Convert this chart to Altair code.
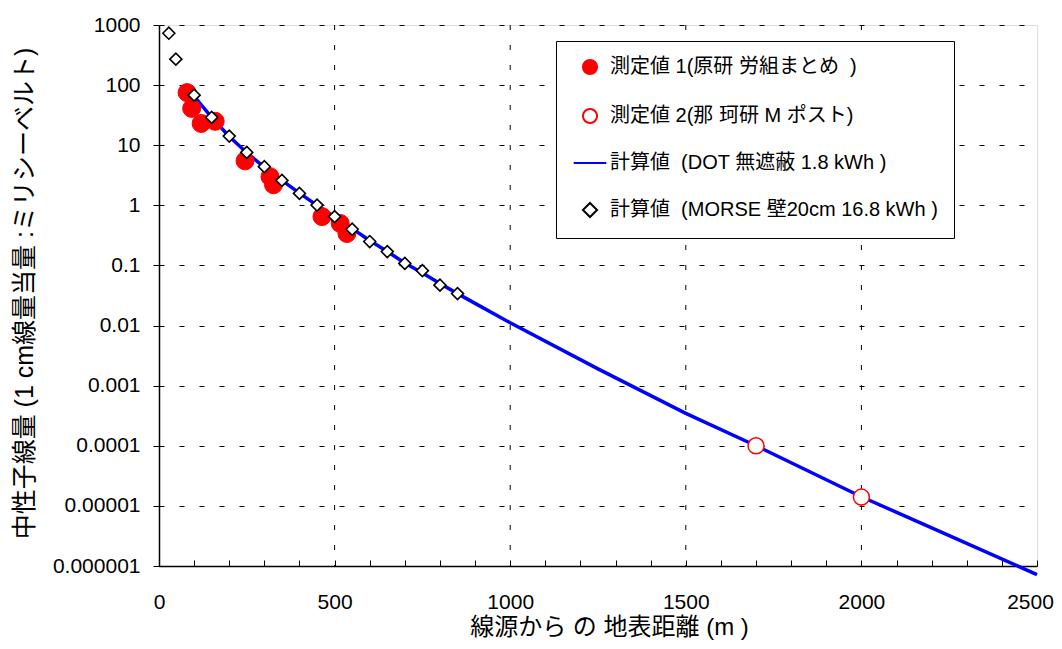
import altair as alt
import pandas as pd

# ---- data ----
series_names = [
    "測定値 1(原研 労組まとめ\u00a0\u00a0)",
    "測定値 2(那 珂研 M ポスト)",
    "計算値\u00a0\u00a0(DOT 無遮蔽 1.8 kWh )",
    "計算値\u00a0\u00a0(MORSE 壁20cm 16.8 kWh )",
]

m1_x = [80, 93, 120, 160, 245, 316, 326, 464, 516, 535]
m1_y = [75, 41, 23, 25, 5.5, 3.0, 2.2, 0.65, 0.50, 0.34]

m2_x = [1700, 2000]
m2_y = [1.0e-4, 1.4e-5]

dot_x = [100, 150, 200, 250, 300, 350, 400, 450, 500, 550, 600, 650, 700, 750,
         800, 850, 900, 1000, 1250, 1500, 1700, 2000, 2250, 2500]
dot_y = [65, 29, 14, 7.5, 4.3, 2.6, 1.6, 1.0, 0.64, 0.41, 0.26, 0.17, 0.11, 0.075,
         0.05, 0.034, 0.0234, 0.0111, 0.0019, 3.46e-4, 1.0e-4, 1.42e-5, 3.2e-6, 7.2e-7]

morse_x = [28, 48, 100, 150, 200, 250, 300, 350, 400, 450, 500, 550, 600, 650,
           700, 750, 800, 850]
morse_y = [730, 270, 68, 29, 14.2, 7.6, 4.4, 2.6, 1.58, 1.01, 0.65, 0.40, 0.25, 0.17,
           0.108, 0.082, 0.047, 0.034]

x_tick_values = [0, 100, 200, 300, 400, 500, 600, 700, 800, 900, 1000, 1100, 1200,
                 1300, 1400, 1500, 1600, 1700, 1800, 1900, 2000, 2100, 2200, 2300,
                 2400, 2500]
x_grid_values = [500, 1000, 1500, 2000]
y_tick_values = [1e-6, 1e-5, 1e-4, 1e-3, 1e-2, 1e-1, 1, 10, 100, 1000]

x_title = "線源から の 地表距離 (m )"
y_title = "中性子線量 (1 cm線量当量 :ミリシーベルト)"

FONT = "Liberation Sans, Arial, Noto Sans CJK JP"

# ---- tables ----
df_m1 = pd.DataFrame({"x": m1_x, "y": m1_y, "series": series_names[0]})
df_m2 = pd.DataFrame({"x": m2_x, "y": m2_y, "series": series_names[1]})
df_dot = pd.DataFrame({"x": dot_x, "y": dot_y, "series": series_names[2]})
df_morse = pd.DataFrame({"x": morse_x, "y": morse_y, "series": series_names[3]})
df_grid = pd.DataFrame({"x": x_grid_values})

x_scale = alt.Scale(domain=[0, 2500], nice=False)
y_scale = alt.Scale(type="log", domain=[1e-6, 1000], nice=False)

x_axis = alt.Axis(
    values=x_tick_values,
    labelExpr="datum.value % 500 == 0 ? format(datum.value, 'd') : ''",
    labelOverlap=False, labelFlush=False,
    labelOffset={"condition": {"test": "datum.value == 2500", "value": -7}, "value": 0},
    grid=False, tickSize={"expr": "-6"}, tickColor="black",
    domainColor="black", domainWidth=1.5,
    labelPadding=31, labelFontSize=21, labelFont=FONT, labelColor="black",
    title=x_title, titleFont=FONT, titleFontSize=24, titleFontWeight="normal",
    titleColor="black", titleX=450, titleY=61, titleBaseline="middle",
    titleAlign="center",
)
y_axis = alt.Axis(
    values=y_tick_values,
    labelExpr="format(datum.value, '.6~f')",
    labelOverlap=False, labelFlush=False,
    grid=True, gridDash=[5, 15], gridColor="black", gridWidth=1,
    tickSize=6, tickColor="black", domainColor="black", domainWidth=1.5,
    labelPadding=13, labelFontSize=21, labelFont=FONT, labelColor="black",
    title=y_title, titleFont=FONT, titleFontSize=25, titleFontWeight="normal",
    titleColor="black", titleX=-135, titleY=268, titleAngle=270,
    titleAlign="center", titleBaseline="middle",
)

legend = alt.Legend(
    title=None, orient="none", legendX=397, legendY=16, direction="vertical",
    padding=16, symbolOffset=8, labelOffset=10, rowPadding=25,
    symbolSize=200, symbolStrokeWidth=2,
    labelFontSize=20, labelFont=FONT, labelColor="black", labelLimit=600,
    strokeColor="black", fillColor="white",
)

fill_enc = alt.Fill("series:N", scale=alt.Scale(
    domain=series_names, range=["#FF0000", "#FFFFFF", "transparent", "#FFFFFF"]),
    legend=legend)
stroke_enc = alt.Stroke("series:N", scale=alt.Scale(
    domain=series_names, range=["#FF0000", "#FF0000", "#0000FF", "#000000"]),
    legend=legend)
shape_enc = alt.Shape("series:N", scale=alt.Scale(
    domain=series_names, range=["circle", "circle", "M-2.3,0L2.3,0", "diamond"]),
    legend=legend)

X = alt.X("x:Q", scale=x_scale, axis=x_axis)
Y = alt.Y("y:Q", scale=y_scale, axis=y_axis)

grid = alt.Chart(df_grid).mark_rule(color="black", strokeWidth=1, strokeDash=[5, 15]).encode(
    x=alt.X("x:Q", scale=x_scale, axis=x_axis)
)

line = alt.Chart(df_dot).mark_line(strokeWidth=3.5).encode(
    x=X, y=Y, stroke=stroke_enc
)

pts1 = alt.Chart(df_m1).mark_point(filled=True, size=324, strokeWidth=1, opacity=1).encode(
    x=X, y=Y, fill=fill_enc, stroke=stroke_enc, shape=shape_enc
)
pts2 = alt.Chart(df_m2).mark_point(filled=True, size=256, strokeWidth=1.5, opacity=1).encode(
    x=X, y=Y, fill=fill_enc, stroke=stroke_enc, shape=shape_enc
)
pts3 = alt.Chart(df_morse).mark_point(filled=True, size=144, strokeWidth=1.6, opacity=1).encode(
    x=X, y=Y, fill=fill_enc, stroke=stroke_enc, shape=shape_enc
)

chart = alt.layer(grid, line, pts1, pts2, pts3).properties(
    width=878, height=541,
    padding={"left": 151, "top": 17, "right": 17, "bottom": 75},
    autosize=alt.AutoSizeParams(type="none"),
).configure_view(
    stroke="#808080", strokeWidth=1.5
).configure(background="white")

chart.save("out.html", embed_options={"renderer": "svg", "actions": False})
